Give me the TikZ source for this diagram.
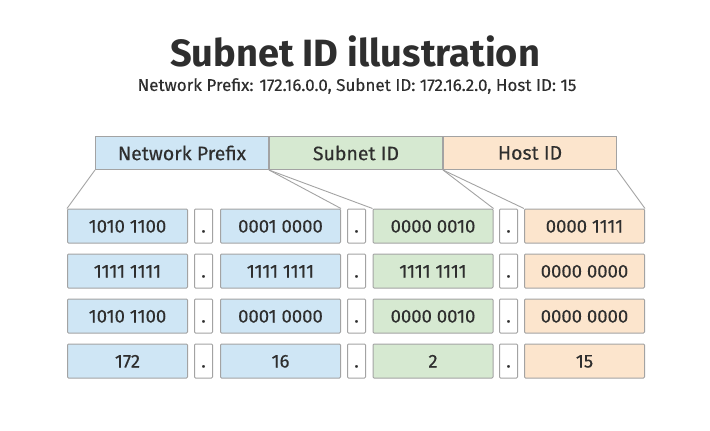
\documentclass[tikz,border=0pt]{standalone}
\usepackage{fontspec}
\setmainfont{Fira Sans}
\newfontfamily\boxfont{Fira Sans}[FakeBold=0.3]
\usepackage{tikz}
\usetikzlibrary{positioning,calc}

\definecolor{netblue}{HTML}{CFE6F5}
\definecolor{subgreen}{HTML}{D6E9D1}
\definecolor{hostorange}{HTML}{FCE5CD}
\definecolor{boxgray}{HTML}{A3A3A3}
\definecolor{inkgray}{HTML}{2E2E2E}

\begin{document}
\begin{tikzpicture}[x=1pt,y=-1pt,
    every node/.style={text=inkgray},
    head/.style={draw=boxgray, line width=1pt, minimum width=173pt, minimum height=33pt, inner sep=0pt, font=\boxfont\fontsize{19.5}{22}\selectfont},
    cell/.style={draw=boxgray, line width=1pt, rounded corners=1pt, minimum width=120pt, minimum height=34pt, inner sep=0pt, text height=13pt, text depth=0pt, font=\boxfont\fontsize{18.5}{21}\selectfont},
    dotbox/.style={cell, fill=white, minimum width=18pt},
    link/.style={draw=boxgray, line width=0.9pt}]
\useasboundingbox (0,0) rectangle (710,431);

% title
\node (title) at (355,51) {\fontsize{38}{40}\selectfont\bfseries Subnet ID illustration};
\node (sub) at (357,86) {\boxfont\fontsize{17}{19}\selectfont Network Prefix: 172.16.0.0, Subnet ID: 172.16.2.0, Host ID: 15};

% header bar
\node [head, fill=netblue] (np) at (182,153) {Network Prefix};
\node [head, fill=subgreen, right=0pt of np] (sid) {Subnet ID};
\node [head, fill=hostorange, right=0pt of sid] (hid) {Host ID};

% rows of octets
\foreach \r/\y/\a/\b/\c/\d in {
    1/226/1010 1100/0001 0000/0000 0010/0000 1111,
    2/271/1111 1111/1111 1111/1111 1111/0000 0000,
    3/316/1010 1100/0001 0000/0000 0010/0000 0000,
    4/361/172/16/2/15} {
  \node [cell, fill=netblue] (r\r c1) at (127.5,\y) {\a};
  \node [dotbox] (r\r d1) at (203.5,\y) {.};
  \node [cell, fill=netblue] (r\r c2) at (280.5,\y) {\b};
  \node [dotbox] (r\r d2) at (356.5,\y) {.};
  \node [cell, fill=subgreen] (r\r c3) at (433,\y) {\c};
  \node [dotbox] (r\r d3) at (508.5,\y) {.};
  \node [cell, fill=hostorange] (r\r c4) at (584.5,\y) {\d};
}

% fan-out lines
\path [link] (np.south west) -- (r1c1.north west);
\path [link] (np.south east) -- (r1c2.north east);
\path [link] (sid.south west) -- (r1c3.north west);
\path [link] (sid.south east) -- (r1c3.north east);
\path [link] (hid.south west) -- (r1c4.north west);
\path [link] (hid.south east) -- (r1c4.north east);
\end{tikzpicture}
\end{document}
